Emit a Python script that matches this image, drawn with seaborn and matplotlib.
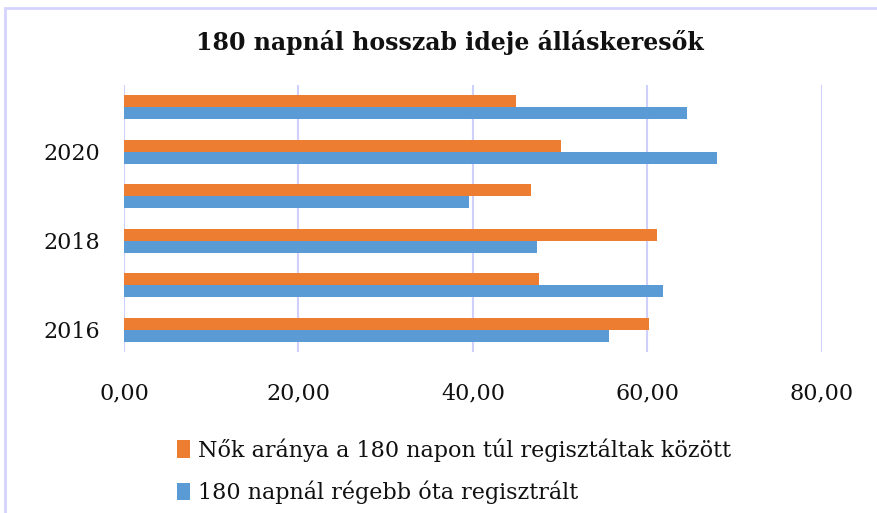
import pandas as pd
import seaborn as sns
import matplotlib.pyplot as plt
from matplotlib.patches import Rectangle

# Data (top to bottom)
years = ["2021", "2020", "2019", "2018", "2017", "2016"]
year_labels = ["", "2020", "", "2018", "", "2016"]
nok_arany = [44.9, 50.1, 46.7, 61.1, 47.6, 60.2]
regebb = [64.5, 68.0, 39.6, 47.4, 61.8, 55.6]
series = ["Nők aránya a 180 napon túl regisztáltak között",
          "180 napnál régebb óta regisztrált"]
x_ticks = [0, 20, 40, 60, 80]
x_labels = ["0,00", "20,00", "40,00", "60,00", "80,00"]

df = pd.DataFrame({
    "ev": years * 2,
    "ertek": nok_arany + regebb,
    "sorozat": [series[0]] * len(years) + [series[1]] * len(years),
})

sns.set_style("white")
plt.rcParams["font.family"] = ["DejaVu Serif"]
plt.rcParams["text.color"] = "#111111"
plt.rcParams["xtick.color"] = "#111111"
plt.rcParams["ytick.color"] = "#111111"

fig = plt.figure(figsize=(8.77, 5.13), dpi=100)
ax = fig.add_axes([0.1414, 0.314, 0.7956, 0.52])

sns.barplot(data=df, x="ertek", y="ev", hue="sorozat", hue_order=series,
            order=years, palette=["#ED7D31", "#5B9BD5"], orient="h",
            width=0.54, saturation=1, linewidth=0, ax=ax)

ax.set_xlim(0, 80)
ax.set_xticks(x_ticks)
ax.set_xticklabels(x_labels, fontsize=16)
ax.set_yticks(range(len(years)))
ax.set_yticklabels(year_labels, fontsize=16)
ax.tick_params(axis="x", length=0, pad=22)
ax.tick_params(axis="y", length=0, pad=17)
ax.set_xlabel("")
ax.set_ylabel("")
for s in ax.spines.values():
    s.set_visible(False)
ax.grid(axis="x", color="#d0d0ff", linewidth=1.5)
ax.set_axisbelow(True)

ax.set_title("180 napnál hosszab ideje álláskeresők", fontsize=17,
             fontweight="bold", pad=25, x=0.467)

ax.legend(loc="upper left", bbox_to_anchor=(0.063, -0.29), frameon=False,
          fontsize=16, handlelength=0.6, handleheight=0.85,
          handletextpad=0.35, labelspacing=0.85, borderaxespad=0)

fig.patches.append(Rectangle((0.006, -0.05), 1.2, 0.034 + 1.0, fill=False,
                             edgecolor="#d4d4ff", linewidth=2,
                             transform=fig.transFigure, figure=fig))

fig.savefig("out.png", dpi=100)
